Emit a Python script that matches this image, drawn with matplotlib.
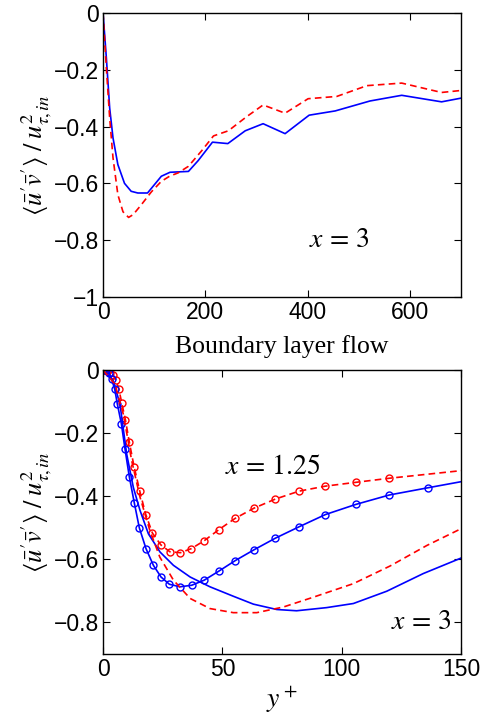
import matplotlib
matplotlib.use("Agg")
import matplotlib.pyplot as plt

plt.rcParams['font.family'] = ['Liberation Sans', 'DejaVu Sans']
plt.rcParams['mathtext.fontset'] = 'stix'

# top panel, x = 3, y+ up to 700
top_x_blue = [0, 6.5, 13, 19.5, 29, 42, 55, 68, 87, 98, 114, 131, 167, 186, 214,
              244, 278, 313, 356, 403, 454, 522, 584, 662, 700]
top_y_blue = [0, -0.158, -0.335, -0.44, -0.534, -0.60, -0.628, -0.634, -0.634,
              -0.61, -0.575, -0.561, -0.558, -0.52, -0.455, -0.46, -0.415, -0.39,
              -0.425, -0.36, -0.345, -0.31, -0.29, -0.313, -0.30]
top_x_red = [0, 6.5, 13, 19.5, 29, 39, 50, 59, 75, 94.5, 114, 130, 147, 167, 193,
             216, 245, 281, 313, 356, 401, 457, 516, 584, 662, 700]
top_y_red = [0, -0.194, -0.37, -0.51, -0.64, -0.70, -0.72, -0.71, -0.675, -0.63,
             -0.593, -0.575, -0.563, -0.54, -0.485, -0.433, -0.415, -0.365, -0.324,
             -0.353, -0.302, -0.294, -0.256, -0.247, -0.28, -0.273]

# bottom panel, x = 1.25 (with markers)
x125_red = [0, 0.8, 1.8, 2.9, 4.3, 5.4, 6.6, 7.8, 9.4, 11.0, 13.0, 15.4, 17.9, 20.7,
            24.2, 28.0, 32.4, 37.0, 42.4, 48.5, 55.4, 63.2, 72.2, 82.1, 93.2, 105.9,
            120.0, 136.3, 150]
y125_red = [0, 0, -0.002, -0.008, -0.016, -0.033, -0.059, -0.103, -0.159, -0.228,
            -0.306, -0.384, -0.458, -0.517, -0.554, -0.576, -0.579, -0.566, -0.541,
            -0.506, -0.470, -0.438, -0.409, -0.384, -0.368, -0.356, -0.343, -0.330,
            -0.319]
x125_blue = [0, 1.3, 2.4, 3.6, 4.9, 6.0, 7.7, 9.2, 11.0, 13.1, 15.2, 18.0, 21.1, 24.3,
             27.8, 32.3, 37.2, 42.4, 48.6, 55.4, 63.2, 72.2, 82.1, 93.2, 105.9, 120.0,
             136.3, 150]
y125_blue = [0, -0.001, -0.008, -0.029, -0.061, -0.108, -0.171, -0.250, -0.338,
             -0.421, -0.500, -0.566, -0.619, -0.656, -0.679, -0.687, -0.682, -0.666,
             -0.637, -0.604, -0.570, -0.533, -0.497, -0.458, -0.426, -0.396, -0.373,
             -0.354]
n_mark = 27  # last point is only the line end

# bottom panel, x = 3 (no markers)
x3_blue = [0, 4.3, 7.1, 9.9, 12.7, 15.5, 19.0, 23.9, 29.5, 36.5, 44.8, 54.6, 63.0,
           72.8, 81.1, 93.7, 104.9, 118.9, 134.2, 150]
y3_blue = [0, -0.035, -0.108, -0.266, -0.372, -0.445, -0.519, -0.577, -0.619, -0.656,
           -0.687, -0.717, -0.742, -0.759, -0.763, -0.753, -0.74, -0.701, -0.645,
           -0.596]
x3_red = [0, 5.0, 8.5, 12.0, 15.5, 19.6, 23.8, 29.5, 36.5, 44.8, 54.6, 64.4, 75.6,
          88.1, 104.9, 120.3, 135.7, 150]
y3_red = [0, -0.045, -0.14, -0.287, -0.403, -0.508, -0.593, -0.666, -0.724, -0.756,
          -0.769, -0.769, -0.751, -0.72, -0.677, -0.621, -0.556, -0.503]

ylab = r"$\langle \bar{u}'\bar{v}' \rangle\;/\;u^2_{\tau,in}$"
dash = (4, 2.5)

fig = plt.figure(figsize=(4.86, 7.19), dpi=100)
ax1 = fig.add_axes([0.212, 0.587, 0.7366, 0.395])
ax2 = fig.add_axes([0.212, 0.0904, 0.7366, 0.395])

ax1.plot(top_x_blue, top_y_blue, color='b', lw=1.2)
ax1.plot(top_x_red, top_y_red, color='r', lw=1.2, ls='--', dashes=dash)
ax1.set_xlim(0, 700)
ax1.set_ylim(-1, 0)
ax1.set_xticks([0, 200, 400, 600])
ax1.set_yticks([-1, -0.8, -0.6, -0.4, -0.2, 0])
ax1.set_yticklabels(['\u22121', '\u22120.8', '\u22120.6', '\u22120.4', '\u22120.2', '0'])
ax1.text(463, -0.80, r"$x\,=\,3$", fontsize=20, ha='center', va='center')
ax1.set_ylabel(ylab, fontsize=19, labelpad=0)

ax2.plot(x125_red, y125_red, color='r', lw=1.2, ls='--', dashes=dash)
ax2.plot(x125_red[:n_mark], y125_red[:n_mark], ls='none', marker='o', ms=5,
         mfc='none', mec='r', mew=1.0)
ax2.plot(x125_blue, y125_blue, color='b', lw=1.2, marker='o', ms=5, mfc='none',
         mec='b', mew=1.0, markevery=list(range(n_mark)))
ax2.plot(x3_blue, y3_blue, color='b', lw=1.2)
ax2.plot(x3_red, y3_red, color='r', lw=1.2, ls='--', dashes=dash)
ax2.set_xlim(0, 150)
ax2.set_ylim(-0.9, 0)
ax2.set_xticks([0, 50, 100, 150])
ax2.set_yticks([-0.8, -0.6, -0.4, -0.2, 0])
ax2.set_yticklabels(['\u22120.8', '\u22120.6', '\u22120.4', '\u22120.2', '0'])
ax2.text(71, -0.306, r"$x\,=\,1.25$", fontsize=20, ha='center', va='center')
ax2.text(133.5, -0.80, r"$x\,=\,3$", fontsize=20, ha='center', va='center')
ax2.set_ylabel(ylab, fontsize=19, labelpad=0)
ax2.set_xlabel(r"$y^+$", fontsize=20, labelpad=2)

fig.text(0.58, 1 - 347 / 719, "Boundary layer flow", fontsize=18.5,
         family='Liberation Serif', ha='center', va='center')

for ax in (ax1, ax2):
    ax.tick_params(direction='in', top=True, right=True, labelsize=16.5,
                   length=5, width=0.8, pad=3)
    for s in ax.spines.values():
        s.set_linewidth(1.0)

fig.savefig("out.png", dpi=100)
